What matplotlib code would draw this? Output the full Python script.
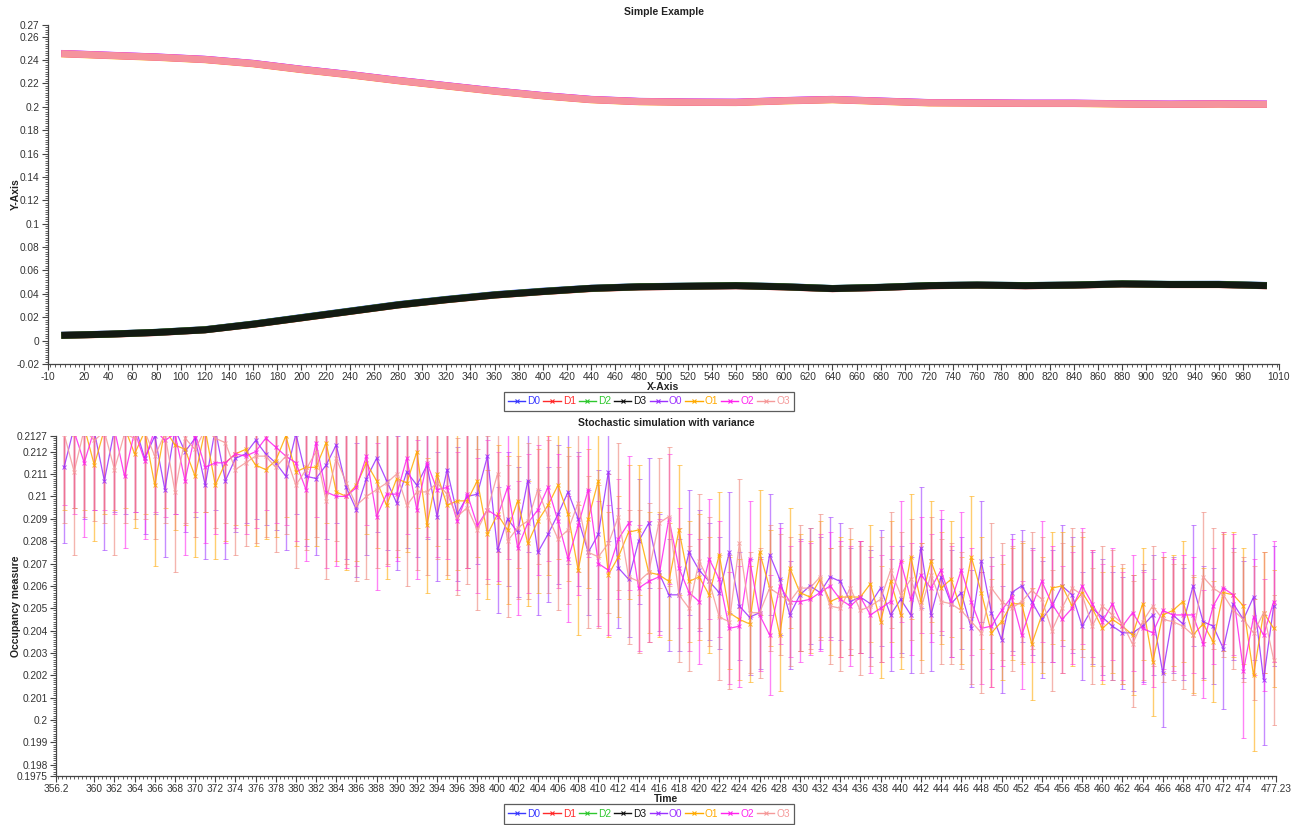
import numpy as np
import matplotlib
matplotlib.use("Agg")
import matplotlib.pyplot as plt
from matplotlib.ticker import FixedLocator, MultipleLocator, FuncFormatter
from matplotlib.lines import Line2D

plt.rcParams['font.family'] = ['Liberation Sans', 'DejaVu Sans']

SERIES = ['D0', 'D1', 'D2', 'D3', 'O0', 'O1', 'O2', 'O3']
COLORS = ['#3a3aff', '#ff2a2a', '#2ec82e', '#111111',
          '#9b30ff', '#ffaa00', '#ff22ee', '#f59a9a']
ERR_COLORS = {'O0': '#a040ff', 'O1': '#ffad10', 'O2': '#ff30f0', 'O3': '#ee8478'}

# ---------------- top chart ("Simple Example"), sampled every 40 time units
TOP_X = [1, 40, 80, 120, 160, 200, 240, 280, 320, 360, 400, 440, 480, 520,
         560, 600, 640, 680, 720, 760, 800, 840, 880, 920, 960, 1000]
TOP_D0 = [0.0046, 0.0056, 0.0071, 0.0094, 0.0142, 0.0198, 0.0253, 0.0308, 0.0353, 0.0393, 0.0423, 0.0448, 0.0462,
          0.0466, 0.0471, 0.0462, 0.0446, 0.0456, 0.0471, 0.0476, 0.0471, 0.0476, 0.0486, 0.0481, 0.0482, 0.0472]
TOP_D1 = [0.0044, 0.0054, 0.0069, 0.0092, 0.0139, 0.0194, 0.0249, 0.0304, 0.0349, 0.0389, 0.0419, 0.0445, 0.0459,
          0.0464, 0.0469, 0.0459, 0.0444, 0.0454, 0.0469, 0.0474, 0.0469, 0.0474, 0.0484, 0.0479, 0.0479, 0.0469]
TOP_D2 = [0.0045, 0.0055, 0.0071, 0.0093, 0.0141, 0.0196, 0.0251, 0.0306, 0.0351, 0.0391, 0.0421, 0.0447, 0.0461,
          0.0466, 0.0471, 0.0461, 0.0446, 0.0456, 0.0471, 0.0476, 0.0471, 0.0476, 0.0486, 0.0481, 0.0481, 0.0471]
TOP_D3 = [0.0045, 0.0055, 0.0070, 0.0092, 0.0140, 0.0195, 0.0250, 0.0305, 0.0350, 0.0390, 0.0420, 0.0447, 0.0460,
          0.0465, 0.0470, 0.0460, 0.0445, 0.0455, 0.0470, 0.0475, 0.0470, 0.0475, 0.0485, 0.0480, 0.0480, 0.0470]
TOP_O0 = [0.2457, 0.2442, 0.2427, 0.2407, 0.2372, 0.2322, 0.2277, 0.2227, 0.2182, 0.2137, 0.2097, 0.2064, 0.2047,
          0.2042, 0.2040, 0.2054, 0.2064, 0.2050, 0.2037, 0.2035, 0.2032, 0.2032, 0.2027, 0.2024, 0.2027, 0.2024]
TOP_O1 = [0.2453, 0.2438, 0.2423, 0.2403, 0.2368, 0.2318, 0.2273, 0.2223, 0.2178, 0.2133, 0.2093, 0.2060, 0.2043,
          0.2038, 0.2036, 0.2050, 0.2060, 0.2046, 0.2033, 0.2031, 0.2028, 0.2028, 0.2023, 0.2020, 0.2023, 0.2020]
TOP_O2 = [0.2456, 0.2441, 0.2426, 0.2406, 0.2371, 0.2321, 0.2276, 0.2226, 0.2181, 0.2136, 0.2096, 0.2063, 0.2046,
          0.2041, 0.2039, 0.2053, 0.2063, 0.2049, 0.2036, 0.2034, 0.2031, 0.2031, 0.2026, 0.2023, 0.2026, 0.2023]
TOP_O3 = [0.2455, 0.2440, 0.2425, 0.2405, 0.2370, 0.2320, 0.2275, 0.2225, 0.2180, 0.2135, 0.2095, 0.2062, 0.2045,
          0.2040, 0.2038, 0.2052, 0.2062, 0.2048, 0.2035, 0.2033, 0.2030, 0.2030, 0.2025, 0.2022, 0.2025, 0.2022]

# ---------------- bottom chart: time 357 .. 477 (one point per time unit)
ZOOM_X = list(range(357, 478))
ZOOM_O0 = [0.2113, 0.2131, 0.2128, 0.2129, 0.2107, 0.2130, 0.2128, 0.2132, 0.2117, 0.2127,
           0.2103, 0.2130, 0.2120, 0.2126, 0.2105, 0.2130, 0.2107, 0.2117, 0.2119, 0.2125,
           0.2119, 0.2115, 0.2109, 0.2128, 0.2109, 0.2108, 0.2114, 0.2123, 0.2104, 0.2094,
           0.2108, 0.2117, 0.2107, 0.2097, 0.2111, 0.2105, 0.2114, 0.2091, 0.2112, 0.2092,
           0.2100, 0.2101, 0.2118, 0.2076, 0.2090, 0.2084, 0.2107, 0.2075, 0.2083, 0.2092,
           0.2102, 0.2090, 0.2075, 0.2083, 0.2111, 0.2068, 0.2063, 0.2080, 0.2088, 0.2066,
           0.2056, 0.2056, 0.2075, 0.2067, 0.2062, 0.2057, 0.2075, 0.2051, 0.2046, 0.2048,
           0.2074, 0.2063, 0.2047, 0.2056, 0.2060, 0.2057, 0.2064, 0.2062, 0.2053, 0.2055,
           0.2052, 0.2059, 0.2047, 0.2054, 0.2047, 0.2077, 0.2047, 0.2064, 0.2052, 0.2057,
           0.2041, 0.2071, 0.2048, 0.2036, 0.2057, 0.2060, 0.2053, 0.2045, 0.2051, 0.2060,
           0.2056, 0.2042, 0.2050, 0.2046, 0.2042, 0.2039, 0.2039, 0.2042, 0.2047, 0.2021,
           0.2047, 0.2043, 0.2060, 0.2044, 0.2042, 0.2032, 0.2052, 0.2045, 0.2055, 0.2018, 0.2051]
ZOOM_O1 = [0.2130, 0.2128, 0.2131, 0.2114, 0.2130, 0.2129, 0.2131, 0.2119, 0.2129, 0.2105,
           0.2130, 0.2123, 0.2121, 0.2109, 0.2130, 0.2105, 0.2115, 0.2119, 0.2121, 0.2114,
           0.2112, 0.2116, 0.2127, 0.2111, 0.2113, 0.2113, 0.2124, 0.2102, 0.2100, 0.2105,
           0.2115, 0.2107, 0.2096, 0.2108, 0.2106, 0.2120, 0.2087, 0.2110, 0.2096, 0.2098,
           0.2098, 0.2107, 0.2083, 0.2092, 0.2085, 0.2098, 0.2079, 0.2089, 0.2096, 0.2105,
           0.2092, 0.2067, 0.2090, 0.2107, 0.2065, 0.2073, 0.2084, 0.2085, 0.2066, 0.2065,
           0.2062, 0.2085, 0.2062, 0.2064, 0.2056, 0.2074, 0.2048, 0.2045, 0.2043, 0.2075,
           0.2059, 0.2038, 0.2068, 0.2057, 0.2055, 0.2063, 0.2053, 0.2055, 0.2055, 0.2055,
           0.2061, 0.2044, 0.2062, 0.2047, 0.2073, 0.2053, 0.2071, 0.2059, 0.2063, 0.2049,
           0.2073, 0.2057, 0.2039, 0.2044, 0.2052, 0.2052, 0.2034, 0.2047, 0.2059, 0.2060,
           0.2051, 0.2057, 0.2050, 0.2041, 0.2045, 0.2042, 0.2038, 0.2052, 0.2026, 0.2047,
           0.2049, 0.2053, 0.2038, 0.2043, 0.2035, 0.2057, 0.2056, 0.2051, 0.2020, 0.2048, 0.2041]
ZOOM_O2 = [0.2131, 0.2129, 0.2115, 0.2130, 0.2128, 0.2130, 0.2109, 0.2129, 0.2116, 0.2130,
           0.2125, 0.2128, 0.2107, 0.2128, 0.2113, 0.2115, 0.2115, 0.2119, 0.2118, 0.2120,
           0.2126, 0.2122, 0.2118, 0.2115, 0.2103, 0.2124, 0.2102, 0.2100, 0.2100, 0.2104,
           0.2118, 0.2091, 0.2101, 0.2101, 0.2117, 0.2094, 0.2115, 0.2103, 0.2104, 0.2089,
           0.2101, 0.2087, 0.2094, 0.2091, 0.2104, 0.2077, 0.2088, 0.2094, 0.2104, 0.2089,
           0.2072, 0.2087, 0.2103, 0.2070, 0.2067, 0.2081, 0.2088, 0.2059, 0.2062, 0.2064,
           0.2090, 0.2068, 0.2057, 0.2053, 0.2072, 0.2063, 0.2041, 0.2042, 0.2072, 0.2047,
           0.2038, 0.2060, 0.2053, 0.2053, 0.2054, 0.2057, 0.2060, 0.2054, 0.2051, 0.2055,
           0.2047, 0.2050, 0.2053, 0.2071, 0.2054, 0.2065, 0.2059, 0.2067, 0.2053, 0.2067,
           0.2053, 0.2041, 0.2042, 0.2049, 0.2055, 0.2038, 0.2051, 0.2062, 0.2052, 0.2045,
           0.2050, 0.2060, 0.2052, 0.2044, 0.2052, 0.2042, 0.2048, 0.2041, 0.2039, 0.2049,
           0.2047, 0.2047, 0.2047, 0.2034, 0.2051, 0.2059, 0.2056, 0.2022, 0.2046, 0.2038, 0.2053]
ZOOM_O3 = [0.2128, 0.2111, 0.2130, 0.2125, 0.2129, 0.2112, 0.2128, 0.2126, 0.2129, 0.2118,
           0.2128, 0.2102, 0.2126, 0.2121, 0.2130, 0.2126, 0.2124, 0.2112, 0.2115, 0.2118,
           0.2118, 0.2113, 0.2118, 0.2105, 0.2112, 0.2120, 0.2098, 0.2117, 0.2106, 0.2096,
           0.2100, 0.2103, 0.2106, 0.2110, 0.2096, 0.2102, 0.2102, 0.2106, 0.2101, 0.2091,
           0.2095, 0.2085, 0.2094, 0.2110, 0.2080, 0.2086, 0.2089, 0.2103, 0.2091, 0.2081,
           0.2085, 0.2097, 0.2075, 0.2073, 0.2079, 0.2091, 0.2064, 0.2062, 0.2066, 0.2088,
           0.2091, 0.2056, 0.2050, 0.2071, 0.2062, 0.2046, 0.2044, 0.2079, 0.2048, 0.2048,
           0.2059, 0.2056, 0.2053, 0.2059, 0.2059, 0.2064, 0.2051, 0.2050, 0.2059, 0.2049,
           0.2051, 0.2054, 0.2067, 0.2056, 0.2063, 0.2050, 0.2065, 0.2053, 0.2052, 0.2049,
           0.2044, 0.2039, 0.2059, 0.2053, 0.2050, 0.2053, 0.2058, 0.2054, 0.2040, 0.2050,
           0.2059, 0.2056, 0.2042, 0.2051, 0.2047, 0.2043, 0.2034, 0.2044, 0.2051, 0.2045,
           0.2044, 0.2042, 0.2038, 0.2064, 0.2059, 0.2056, 0.2049, 0.2045, 0.2039, 0.2048, 0.2027]

# error-bar half widths (standard deviation) per point
ERR_O0 = [0.0034, 0.0036, 0.0038, 0.0035, 0.0031, 0.0037, 0.0036, 0.0039, 0.0034, 0.0035,
          0.0030, 0.0038, 0.0036, 0.0035, 0.0033, 0.0036, 0.0035, 0.0033, 0.0031, 0.0035,
          0.0032, 0.0030, 0.0033, 0.0036, 0.0031, 0.0034, 0.0033, 0.0035, 0.0032, 0.0030,
          0.0034, 0.0033, 0.0031, 0.0030, 0.0034, 0.0032, 0.0033, 0.0029, 0.0031, 0.0030,
          0.0032, 0.0031, 0.0033, 0.0028, 0.0030, 0.0029, 0.0032, 0.0028, 0.0030, 0.0031,
          0.0032, 0.0030, 0.0028, 0.0029, 0.0031, 0.0027, 0.0026, 0.0028, 0.0029, 0.0026,
          0.0025, 0.0025, 0.0028, 0.0027, 0.0026, 0.0025, 0.0027, 0.0024, 0.0026, 0.0025,
          0.0027, 0.0025, 0.0024, 0.0025, 0.0026, 0.0025, 0.0027, 0.0026, 0.0024, 0.0025,
          0.0024, 0.0026, 0.0025, 0.0024, 0.0026, 0.0027, 0.0025, 0.0026, 0.0024, 0.0025,
          0.0026, 0.0027, 0.0025, 0.0024, 0.0026, 0.0025, 0.0024, 0.0026, 0.0025, 0.0027,
          0.0026, 0.0024, 0.0025, 0.0026, 0.0024, 0.0025, 0.0026, 0.0025, 0.0027, 0.0024,
          0.0026, 0.0025, 0.0027, 0.0025, 0.0026, 0.0027, 0.0025, 0.0026, 0.0028, 0.0029, 0.0027]
ERR_O1 = [0.0036, 0.0033, 0.0037, 0.0034, 0.0038, 0.0035, 0.0036, 0.0033, 0.0037, 0.0036,
          0.0035, 0.0038, 0.0034, 0.0036, 0.0037, 0.0033, 0.0035, 0.0032, 0.0034, 0.0036,
          0.0031, 0.0034, 0.0036, 0.0033, 0.0032, 0.0035, 0.0036, 0.0031, 0.0033, 0.0034,
          0.0032, 0.0030, 0.0033, 0.0035, 0.0031, 0.0034, 0.0030, 0.0032, 0.0033, 0.0031,
          0.0030, 0.0034, 0.0029, 0.0031, 0.0033, 0.0030, 0.0028, 0.0032, 0.0031, 0.0033,
          0.0030, 0.0029, 0.0031, 0.0034, 0.0028, 0.0027, 0.0030, 0.0029, 0.0027, 0.0028,
          0.0026, 0.0029, 0.0027, 0.0028, 0.0026, 0.0028, 0.0025, 0.0027, 0.0026, 0.0028,
          0.0026, 0.0025, 0.0027, 0.0026, 0.0025, 0.0026, 0.0024, 0.0027, 0.0026, 0.0025,
          0.0026, 0.0025, 0.0027, 0.0024, 0.0028, 0.0026, 0.0027, 0.0025, 0.0026, 0.0024,
          0.0027, 0.0025, 0.0024, 0.0026, 0.0025, 0.0027, 0.0025, 0.0026, 0.0025, 0.0024,
          0.0027, 0.0025, 0.0026, 0.0025, 0.0024, 0.0026, 0.0027, 0.0025, 0.0024, 0.0026,
          0.0025, 0.0027, 0.0026, 0.0025, 0.0027, 0.0026, 0.0028, 0.0026, 0.0034, 0.0027, 0.0026]
ERR_O2 = [0.0035, 0.0037, 0.0033, 0.0036, 0.0034, 0.0038, 0.0032, 0.0036, 0.0035, 0.0037,
          0.0034, 0.0036, 0.0033, 0.0035, 0.0034, 0.0032, 0.0036, 0.0033, 0.0035, 0.0034,
          0.0032, 0.0034, 0.0031, 0.0035, 0.0032, 0.0033, 0.0034, 0.0031, 0.0032, 0.0035,
          0.0031, 0.0033, 0.0032, 0.0030, 0.0034, 0.0031, 0.0033, 0.0030, 0.0032, 0.0031,
          0.0033, 0.0030, 0.0031, 0.0029, 0.0032, 0.0030, 0.0031, 0.0029, 0.0033, 0.0030,
          0.0028, 0.0031, 0.0030, 0.0028, 0.0029, 0.0027, 0.0030, 0.0028, 0.0027, 0.0026,
          0.0029, 0.0027, 0.0026, 0.0028, 0.0027, 0.0026, 0.0025, 0.0027, 0.0026, 0.0025,
          0.0027, 0.0026, 0.0025, 0.0027, 0.0025, 0.0026, 0.0024, 0.0026, 0.0027, 0.0025,
          0.0026, 0.0024, 0.0025, 0.0027, 0.0025, 0.0026, 0.0024, 0.0027, 0.0025, 0.0026,
          0.0024, 0.0025, 0.0027, 0.0025, 0.0026, 0.0024, 0.0025, 0.0027, 0.0026, 0.0024,
          0.0025, 0.0026, 0.0024, 0.0026, 0.0025, 0.0024, 0.0026, 0.0025, 0.0024, 0.0026,
          0.0025, 0.0027, 0.0026, 0.0024, 0.0026, 0.0025, 0.0027, 0.0030, 0.0026, 0.0025, 0.0027]
ERR_O3 = [0.0040, 0.0037, 0.0039, 0.0036, 0.0041, 0.0038, 0.0040, 0.0036, 0.0039, 0.0037,
          0.0040, 0.0036, 0.0038, 0.0039, 0.0037, 0.0040, 0.0036, 0.0038, 0.0037, 0.0039,
          0.0036, 0.0038, 0.0035, 0.0037, 0.0036, 0.0038, 0.0035, 0.0037, 0.0036, 0.0034,
          0.0037, 0.0035, 0.0036, 0.0034, 0.0036, 0.0035, 0.0037, 0.0034, 0.0036, 0.0035,
          0.0034, 0.0036, 0.0033, 0.0035, 0.0034, 0.0032, 0.0035, 0.0033, 0.0034, 0.0032,
          0.0033, 0.0031, 0.0034, 0.0032, 0.0031, 0.0033, 0.0030, 0.0032, 0.0031, 0.0029,
          0.0031, 0.0030, 0.0028, 0.0030, 0.0029, 0.0028, 0.0030, 0.0029, 0.0027, 0.0029,
          0.0028, 0.0027, 0.0029, 0.0028, 0.0027, 0.0028, 0.0026, 0.0028, 0.0027, 0.0029,
          0.0027, 0.0028, 0.0026, 0.0028, 0.0027, 0.0029, 0.0026, 0.0028, 0.0027, 0.0026,
          0.0028, 0.0027, 0.0029, 0.0026, 0.0028, 0.0027, 0.0026, 0.0028, 0.0027, 0.0029,
          0.0027, 0.0028, 0.0026, 0.0027, 0.0029, 0.0027, 0.0028, 0.0026, 0.0027, 0.0028,
          0.0026, 0.0028, 0.0027, 0.0029, 0.0027, 0.0028, 0.0026, 0.0028, 0.0030, 0.0027, 0.0029]

TOP_Y = [TOP_D0, TOP_D1, TOP_D2, TOP_D3, TOP_O0, TOP_O1, TOP_O2, TOP_O3]
ZOOM_Y = {'O0': (ZOOM_O0, ERR_O0), 'O1': (ZOOM_O1, ERR_O1),
          'O2': (ZOOM_O2, ERR_O2), 'O3': (ZOOM_O3, ERR_O3)}

TOP_XTICKS = [-10] + list(range(20, 1000, 20)) + [1010]
TOP_YTICKS = [-0.02, 0, 0.02, 0.04, 0.06, 0.08, 0.1, 0.12, 0.14, 0.16,
              0.18, 0.2, 0.22, 0.24, 0.26, 0.27]
BOT_XTICKS = [356.2] + list(range(360, 476, 2)) + [477.23]
BOT_YTICKS = [0.1975, 0.198, 0.199, 0.2, 0.201, 0.202, 0.203, 0.204, 0.205,
              0.206, 0.207, 0.208, 0.209, 0.21, 0.211, 0.212, 0.2127]

TXT = '#333333'
fmt = FuncFormatter(lambda v, p: '%g' % round(v, 6))

fig = plt.figure(figsize=(12.99, 8.25), dpi=100)
ax1 = fig.add_axes([48 / 1299, 1 - 364 / 825, 1231 / 1299, 339 / 825])
ax2 = fig.add_axes([56 / 1299, 1 - 776 / 825, 1220 / 1299, 340 / 825])


def style(ax):
    for s in ('top', 'right'):
        ax.spines[s].set_visible(False)
    for s in ('left', 'bottom'):
        ax.spines[s].set_color('#444444')
        ax.spines[s].set_linewidth(0.9)
    ax.tick_params(which='major', direction='out', length=4, width=0.8,
                   labelsize=7.3, colors='#444444', labelcolor=TXT, pad=2)
    ax.tick_params(which='minor', direction='out', length=2, width=0.6, colors='#444444')
    ax.xaxis.set_major_formatter(fmt)
    ax.yaxis.set_major_formatter(fmt)


# ---- top chart
for name, col, ys in zip(SERIES, COLORS, TOP_Y):
    ax1.plot(TOP_X, ys, color=col, lw=5.0, solid_capstyle='butt', label=name,
             alpha=0.95)
style(ax1)
ax1.set_xlim(-10, 1010)
ax1.set_ylim(-0.02, 0.27)
ax1.xaxis.set_major_locator(FixedLocator(TOP_XTICKS))
ax1.xaxis.set_minor_locator(MultipleLocator(4))
ax1.yaxis.set_major_locator(FixedLocator(TOP_YTICKS))
ax1.yaxis.set_minor_locator(MultipleLocator(0.002))
ax1.set_title('Simple Example', fontsize=7.5, fontweight='bold', color='#222222', pad=7)
ax1.set_xlabel('X-Axis', fontsize=7.5, fontweight='bold', color='#222222', labelpad=0)
ax1.set_ylabel('Y-Axis', fontsize=7.5, fontweight='bold', color='#222222')
ax1.yaxis.set_label_coords((21 - 48) / 1231, 0.5)

# ---- bottom chart
for name, col, ys in zip(SERIES, COLORS, TOP_Y):
    if name in ZOOM_Y:
        y, e = ZOOM_Y[name]
        ec = ERR_COLORS[name]
        line, caps, bars = ax2.errorbar(ZOOM_X, y, yerr=e, color=col, lw=0.9, alpha=0.85,
                                        marker='x', ms=2.2, mew=0.7, ecolor=ec,
                                        elinewidth=1.0, capsize=1.8, capthick=0.7,
                                        label=name)
        for b in bars:
            b.set_alpha(0.6)
        for c in caps:
            c.set_alpha(0.6)
    else:
        ax2.plot(TOP_X, ys, color=col, lw=0.9, marker='x', ms=2.2, label=name)
style(ax2)
ax2.set_xlim(356.2, 477.23)
ax2.set_ylim(0.1975, 0.2127)
ax2.xaxis.set_major_locator(FixedLocator(BOT_XTICKS))
ax2.xaxis.set_minor_locator(MultipleLocator(0.4))
ax2.yaxis.set_major_locator(FixedLocator(BOT_YTICKS))
ax2.yaxis.set_minor_locator(MultipleLocator(0.0001))
ax2.set_title('Stochastic simulation with variance', fontsize=7.5, fontweight='bold',
              color='#222222', pad=7)
ax2.set_xlabel('Time', fontsize=7.5, fontweight='bold', color='#222222', labelpad=0)
ax2.set_ylabel('Occupancy measure', fontsize=7.5, fontweight='bold', color='#222222')
ax2.yaxis.set_label_coords((21 - 56) / 1220, 0.5)


def make_legend(y):
    handles = [Line2D([], [], color=c, lw=1.0, marker='x', ms=3, mew=0.8)
               for c in COLORS]
    leg = fig.legend(handles, SERIES, loc='center', bbox_to_anchor=(649 / 1299, y),
                     ncol=8, fontsize=7.3, frameon=True, fancybox=False,
                     handlelength=1.7, handletextpad=0.2, columnspacing=0.3,
                     borderpad=0.45, borderaxespad=0)
    leg.get_frame().set_edgecolor('#333333')
    leg.get_frame().set_linewidth(0.9)
    for t, c in zip(leg.get_texts(), COLORS):
        t.set_color(c)


make_legend(1 - 401.5 / 825)
make_legend(1 - 814 / 825)

fig.savefig('out.png', dpi=100)
